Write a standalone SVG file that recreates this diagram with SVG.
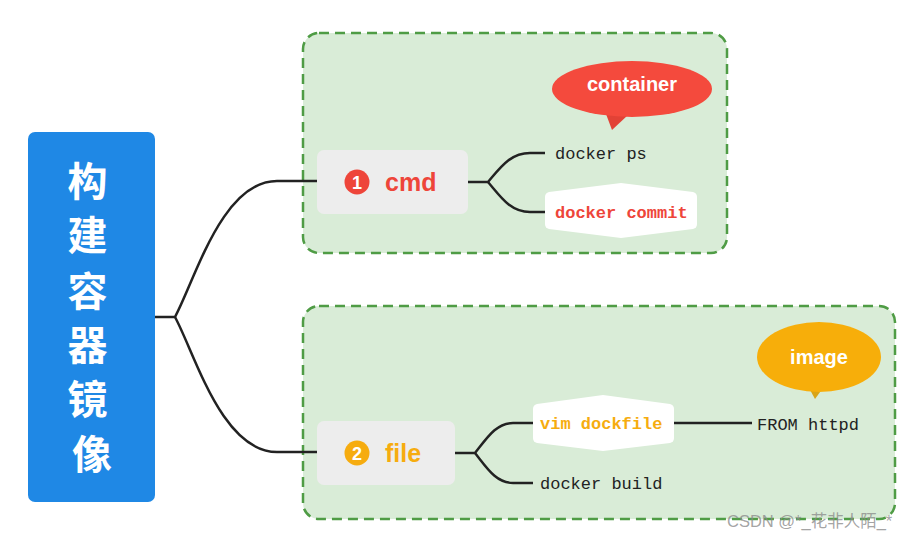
<svg xmlns="http://www.w3.org/2000/svg" width="909" height="536" viewBox="0 0 909 536">
<style>
.grp{fill:#d9ecd7;stroke:#4f9c45;stroke-width:2.5;stroke-dasharray:10 6}
.conn{fill:none;stroke:#222;stroke-width:2.5}
.pill{fill:#ededed}
.mono{font-family:"Liberation Mono","DejaVu Sans Mono",monospace;font-size:17px}
.sans{font-family:"Liberation Sans","Noto Sans",Arial,sans-serif;font-weight:bold}
.cjk{font-family:"Noto Sans CJK SC","Noto Sans",sans-serif;font-weight:bold;font-size:40px;fill:#fff}
</style>
<rect width="909" height="536" fill="#fff"/>
<g id="group-cmd"><rect class="grp" x="303" y="33" width="424" height="220" rx="16"/></g>
<g id="group-file"><rect class="grp" x="303" y="306" width="592" height="213" rx="16"/></g>

<g id="connectors">
<path class="conn" d="M155,317 L175,317 C195,280 222,181 277,181 L318,181"/>
<path class="conn" d="M175,317 C195,354 222,452 277,452 L318,452"/>
<path class="conn" d="M468,182 L488,182 C500,168 510,153 530,153 L545,153"/>
<path class="conn" d="M488,182 C500,196 510,212 530,212 L545,212"/>
<path class="conn" d="M455,453 L475,453 C487,438 496,423 513,423 L533,423"/>
<path class="conn" d="M475,453 C487,468 496,483 513,483 L533,483"/>
<path class="conn" d="M674,423 L752,423"/>
</g>

<g id="root">
<rect x="28" y="132" width="127" height="370" rx="7" fill="#1f88e5"/>
<text class="cjk" text-anchor="middle">
<tspan x="92" y="196">构</tspan>
<tspan x="92" y="250">建</tspan>
<tspan x="92" y="306">容</tspan>
<tspan x="92" y="360">器</tspan>
<tspan x="92" y="414">镜</tspan>
<tspan x="92" y="469">像</tspan>
</text>
</g>

<g id="cmd">
<rect class="pill" x="317" y="150" width="151" height="64" rx="7"/>
<circle cx="357" cy="182" r="12.5" fill="#ee453a"/>
<text class="sans" x="357" y="189" font-size="18" fill="#fff" text-anchor="middle">1</text>
<text class="sans" x="385" y="191" font-size="25" fill="#ee453a">cmd</text>
</g>

<g id="docker-ps">
<text class="mono" x="555" y="159" fill="#222">docker ps</text>
</g>

<g id="docker-commit">
<path d="M545,197 Q545,193 549,192 L621,183 L693,192 Q697,193 697,197 L697,224 Q697,228 693,229 L621,238 L549,229 Q545,228 545,224 Z" fill="#fff"/>
<text class="mono" x="555" y="218" fill="#ee453a" font-weight="bold">docker commit</text>
</g>

<g id="container-bubble">
<path d="M606,114 L612,130 L628,115 Z" fill="#e24236"/>
<ellipse cx="632" cy="89" rx="80" ry="28" fill="#f44a3d"/>
<text class="sans" x="632" y="91" font-size="20" fill="#fff" text-anchor="middle">container</text>
</g>

<g id="file">
<rect class="pill" x="317" y="421" width="138" height="64" rx="7"/>
<circle cx="357" cy="453" r="12.5" fill="#f6ac0f"/>
<text class="sans" x="357" y="460" font-size="18" fill="#fff" text-anchor="middle">2</text>
<text class="sans" x="385" y="462" font-size="25" fill="#f6ac0f">file</text>
</g>

<g id="vim-dockfile">
<path d="M533,409 Q533,405 537,404 L603,395 L670,404 Q674,405 674,409 L674,438 Q674,442 670,443 L603,451 L537,443 Q533,442 533,438 Z" fill="#fff"/>
<text class="mono" x="540" y="429" fill="#f6ac0f" font-weight="bold">vim dockfile</text>
</g>

<g id="from-httpd">
<text class="mono" x="757" y="430" fill="#222">FROM httpd</text>
</g>

<g id="docker-build">
<text class="mono" x="540" y="489" fill="#222">docker build</text>
</g>

<g id="image-bubble">
<path d="M809,388 L815,399 L823,388 Z" fill="#d9a417"/>
<ellipse cx="819" cy="357" rx="62" ry="35" fill="#f7ae0a"/>
<text class="sans" x="819" y="364" font-size="20" fill="#fff" text-anchor="middle">image</text>
</g>

<text x="727" y="527" font-family="'Liberation Sans','Noto Sans CJK SC',sans-serif" font-size="16.5" fill="#8c8c8c" fill-opacity="0.8">CSDN @*_花非人陌_*</text>
</svg>
